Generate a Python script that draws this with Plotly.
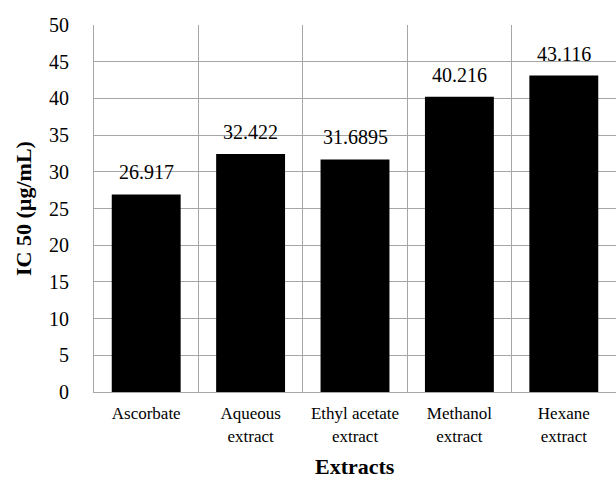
import plotly.graph_objects as go

categories = ["Ascorbate", "Aqueous<br>extract", "Ethyl acetate<br>extract", "Methanol<br>extract", "Hexane<br>extract"]
values = [26.917, 32.422, 31.6895, 40.216, 43.116]
labels = ["26.917", "32.422", "31.6895", "40.216", "43.116"]
y_ticks = [0, 5, 10, 15, 20, 25, 30, 35, 40, 45, 50]

FONT = "Liberation Serif"
GRID = "#a6a6a6"

fig = go.Figure()
fig.add_trace(go.Bar(
    x=categories, y=values,
    marker=dict(color="#000000", line=dict(width=0)),
    hoverinfo="skip",
))

for c, v, t in zip(categories, values, labels):
    fig.add_annotation(x=c, y=v, xref="x", yref="y", text=t, showarrow=False,
                       yanchor="middle", yshift=22,
                       font=dict(family=FONT, size=20, color="#000000"))

# x-axis title
fig.add_annotation(x=0.5, y=0, xref="paper", yref="paper", text="<b>Extracts</b>",
                   showarrow=False, yanchor="middle", yshift=-74,
                   font=dict(family=FONT, size=22, color="#000000"))

fig.update_layout(
    width=616, height=478,
    margin=dict(l=94, r=0, t=25, b=86),
    paper_bgcolor="white", plot_bgcolor="white",
    showlegend=False,
    bargap=0.34,
    font=dict(family=FONT, color="#000000"),
    xaxis=dict(
        type="category",
        tickson="boundaries",
        automargin=False,
        showgrid=True, gridcolor=GRID, gridwidth=1,
        showline=True, linecolor=GRID, linewidth=1,
        ticks="", ticklabelstandoff=6,
        tickfont=dict(family=FONT, size=17, color="#000000"),
        zeroline=False,
    ),
    yaxis=dict(
        range=[0, 50], tickvals=y_ticks,
        automargin=False,
        showgrid=True, gridcolor=GRID, gridwidth=1,
        showline=True, linecolor=GRID, linewidth=1,
        ticks="", ticklabelstandoff=20,
        tickfont=dict(family=FONT, size=20, color="#000000"),
        title=dict(text="<b>IC 50 (µg/mL)</b>", font=dict(family=FONT, size=22, color="#000000"), standoff=11),
        zeroline=False,
    ),
)

fig.write_html("out.html", config={"displayModeBar": False},
               post_script="document.body.style.margin='0';document.body.style.overflow='hidden';")
